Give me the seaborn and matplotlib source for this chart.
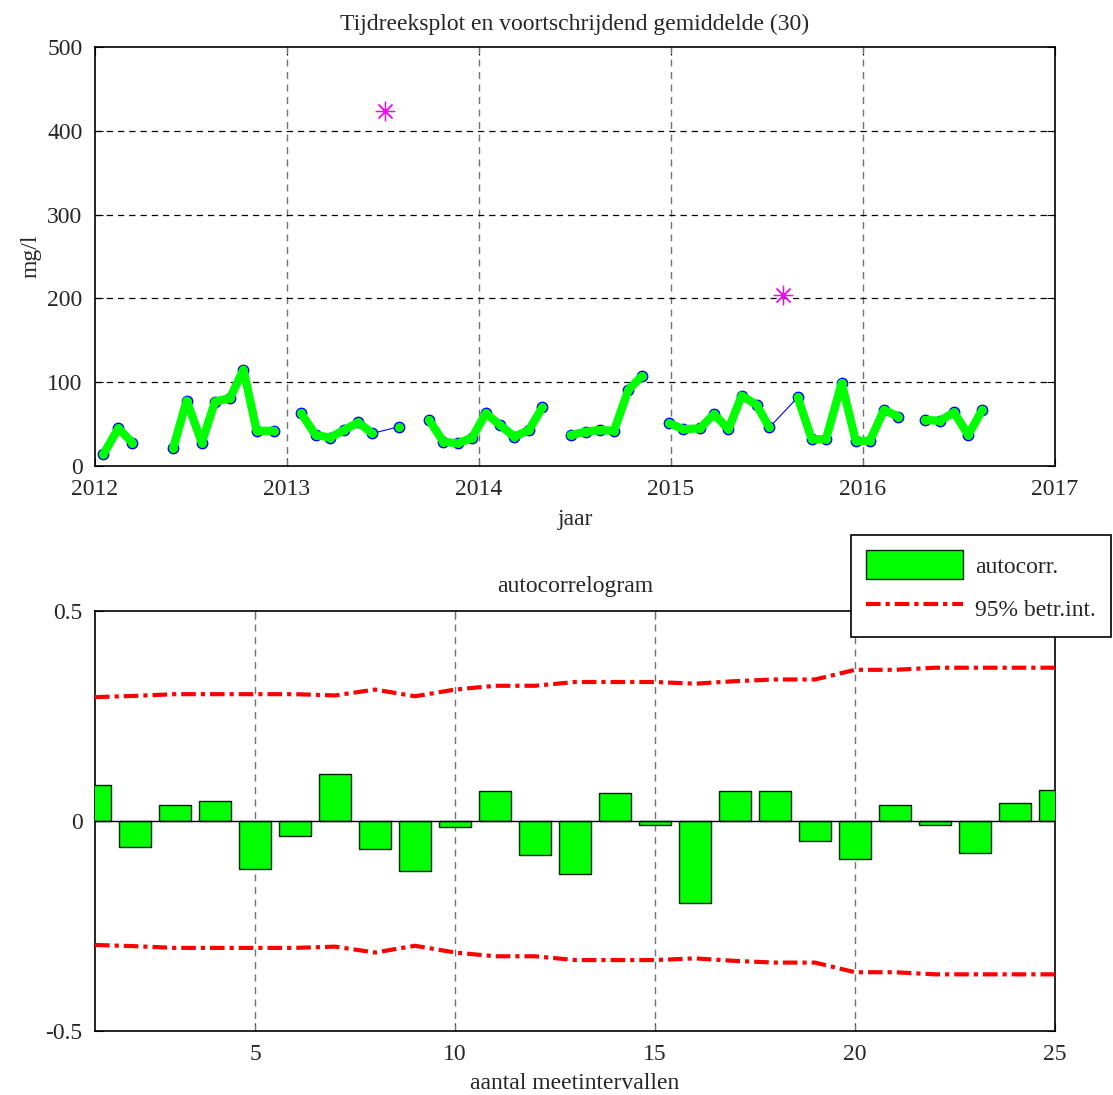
import matplotlib
matplotlib.use('Agg')
import matplotlib.pyplot as plt
import matplotlib.patches as mpatches
import matplotlib.lines as mlines
import numpy as np
import pandas as pd
import seaborn as sns

# meetreeks (NaN = gat in de reeks)
jaar = [2012.043, 2012.121, 2012.194, 2012.30, 2012.408, 2012.477, 2012.556, 2012.625,
        2012.703, 2012.773, 2012.842, 2012.934, 2013.00, 2013.073, 2013.149, 2013.224,
        2013.297, 2013.371, 2013.444, 2013.585, 2013.66, 2013.740, 2013.814, 2013.889,
        2013.965, 2014.035, 2014.109, 2014.184, 2014.260, 2014.330, 2014.40, 2014.477,
        2014.556, 2014.630, 2014.703, 2014.778, 2014.847, 2014.92, 2014.990, 2015.064,
        2015.151, 2015.224, 2015.299, 2015.368, 2015.446, 2015.512, 2015.660, 2015.733,
        2015.807, 2015.889, 2015.962, 2016.036, 2016.109, 2016.184, 2016.25, 2016.323,
        2016.401, 2016.474, 2016.548, 2016.621]
conc = [14, 45, 28, np.nan, 22, 78, 28, 77,
        81, 115, 42, 42, np.nan, 63, 37, 34,
        43, 52, 39, 47, np.nan, 55, 29, 27,
        34, 63, 49, 35, 43, 70, np.nan, 37,
        41, 43, 42, 91, 107, np.nan, 51, 44,
        45, 62, 44, 84, 73, 46, 82, 32,
        32, 99, 30, 30, 67, 59, np.nan, 55,
        54, 64, 37, 67]

# uitschieters
uit_jaar = [2013.51, 2015.583]
uit_conc = [424, 204]

# autocorrelogram
lags = list(range(1, 26))
acf = [0.086, -0.063, 0.038, 0.048, -0.115, -0.035, 0.113, -0.067, -0.120, -0.015,
       0.071, -0.082, -0.125, 0.066, -0.010, -0.196, 0.071, 0.071, -0.048, -0.091,
       0.037, -0.010, -0.077, 0.042, 0.075]
betr = [0.295, 0.298, 0.302, 0.302, 0.302, 0.302, 0.299, 0.313, 0.297, 0.313,
        0.322, 0.322, 0.331, 0.331, 0.331, 0.327, 0.333, 0.337, 0.337, 0.360,
        0.360, 0.365, 0.365, 0.365, 0.365]

sns.set_style('ticks', {'xtick.direction': 'in', 'ytick.direction': 'in'})
plt.rcParams['font.family'] = ['Liberation Serif', 'DejaVu Serif']
fs = 17
plt.rcParams['font.size'] = fs

fig = plt.figure(figsize=(11.13, 10.95), dpi=100)
ax1 = fig.add_axes([0.0854, 0.5744, 0.8625, 0.3826])
ax2 = fig.add_axes([0.0854, 0.0584, 0.8625, 0.3836])

# ---- tijdreeks ----
df = pd.DataFrame({'jaar': jaar, 'conc': conc})
uit = pd.DataFrame({'jaar': uit_jaar, 'conc': [np.nan] * len(uit_jaar)})
gem = pd.concat([df, uit]).sort_values('jaar')

ax1.plot(df['jaar'], df['conc'], color='blue', lw=0.8, marker='o', ms=8.5, mew=0,
         zorder=3)
ax1.plot(gem['jaar'], gem['conc'], color='#00ff00', lw=6, marker='o', ms=6.5, mew=0,
         solid_joinstyle='round', solid_capstyle='round', zorder=4)
ax1.plot(uit_jaar, uit_conc, ls='none', marker=(8, 2, 0), ms=14, mew=0.9,
         color='#ff00ff', zorder=5)

ax1.set_xlim(2012, 2017)
ax1.set_ylim(0, 500)
ax1.set_xticks(range(2012, 2018))
ax1.set_yticks(range(0, 501, 100))
for xv in range(2013, 2017):
    ax1.axvline(xv, color='0.45', ls=(0, (5, 4)), lw=1, zorder=1)
for yv in range(100, 500, 100):
    ax1.axhline(yv, color='black', ls=(0, (5, 4)), lw=0.9, zorder=1)
ax1.set_title('Tijdreeksplot en voortschrijdend gemiddelde (30)', fontsize=fs, pad=12)
ax1.set_xlabel('jaar', fontsize=fs, labelpad=7)
ax1.set_ylabel('mg/l', fontsize=fs, labelpad=4)

# ---- autocorrelogram ----
sns.barplot(x=lags, y=acf, native_scale=True, color='#00ff00', saturation=1,
            edgecolor='#002200', linewidth=1, width=0.8, ax=ax2, zorder=3)
ax2.plot(lags, betr, color='red', lw=3, ls=(0, (3.5, 1.2, 1, 1.2)), zorder=4)
ax2.plot(lags, [-b for b in betr], color='red', lw=3, ls=(0, (3.5, 1.2, 1, 1.2)), zorder=4)
ax2.axhline(0, color='black', lw=1, zorder=4)
for xv in [5, 10, 15, 20]:
    ax2.axvline(xv, color='0.45', ls=(0, (5, 4)), lw=1, zorder=1)
ax2.set_xlim(1, 25)
ax2.set_ylim(-0.5, 0.5)
ax2.set_xticks([5, 10, 15, 20, 25])
ax2.set_yticks([-0.5, 0, 0.5])
ax2.set_yticklabels(['-0.5', '0', '0.5'])
ax2.set_title('autocorrelogram', fontsize=fs, pad=14)
ax2.set_xlabel('aantal meetintervallen', fontsize=fs, labelpad=6)
ax2.set_ylabel('')

for ax in (ax1, ax2):
    for s in ax.spines.values():
        s.set_visible(True)
        s.set_color('black')
        s.set_linewidth(1.2)
    ax.tick_params(labelsize=fs, direction='in', length=6, pad=9, top=True, right=True,
                   color='black')

h1 = mpatches.Patch(facecolor='#00ff00', edgecolor='#002200', lw=1)
h2 = mlines.Line2D([], [], color='red', lw=3, ls=(0, (3.5, 1.2, 1, 1.2)))
leg = fig.legend([h1, h2], ['autocorr.', '95% betr.int.'], loc='upper right',
                 bbox_to_anchor=(1111 / 1113, 1 - 535 / 1095), borderaxespad=0,
                 fontsize=fs, handlelength=4.1, handleheight=1.5, handletextpad=0.5,
                 fancybox=False, edgecolor='black', framealpha=1, borderpad=0.65,
                 labelspacing=0.6)
leg.get_frame().set_linewidth(1.2)

fig.savefig('out.png', dpi=100)
